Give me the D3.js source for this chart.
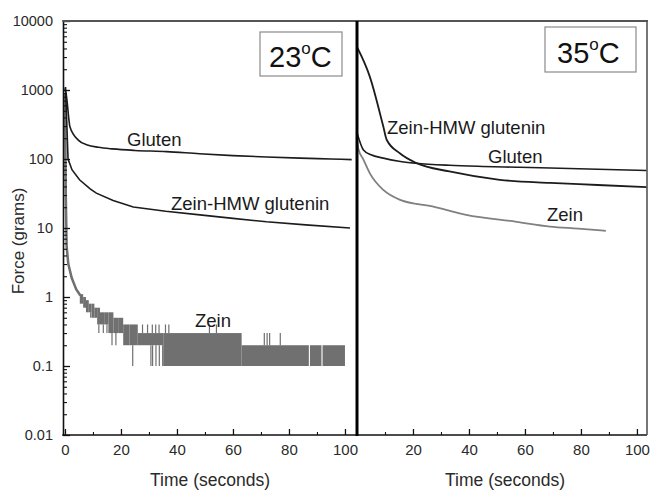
<!DOCTYPE html>
<html>
<head>
<meta charset="utf-8">
<script src="https://cdn.jsdelivr.net/npm/d3@7"></script>
<style>
  html, body { margin: 0; padding: 0; background: #fff; }
  svg { display: block; font-family: "Liberation Sans", Arial, Helvetica, sans-serif; }
</style>
</head>
<body>
<svg id="chart" width="651" height="490"></svg>
<script>
// ---------- DATA ----------
const yTickValues = [0.01, 0.1, 1, 10, 100, 1000, 10000];
const yTickLabels = ["0.01", "0.1", "1", "10", "100", "1000", "10000"];
const xTickValuesLeft = [0, 20, 40, 60, 80, 100];
const xTickValuesRight = [20, 40, 60, 80, 100];
const xMinorTicks = [10, 30, 50, 70, 90];

// 23 °C panel
const glutenT23 = [0, 0.36, 1.8, 4.75, 8, 11.9, 17, 25, 36.3, 48, 60, 72, 84, 95, 102.4];
const glutenF23 = [1000, 906, 290, 188, 160, 148, 140, 133, 128, 119, 112, 107, 103, 100, 98];

const hmwT23 = [0, 0.2, 1.1, 2.5, 5.2, 9, 11.2, 17.2, 24.4, 36, 48.2, 60, 72, 86, 101.8];
const hmwF23 = [1000, 1100, 100, 70, 50, 37, 32, 25, 20.2, 17.5, 15.5, 13.8, 12.3, 11.1, 10];

const zeinT23 = [0, 0.3, 0.6, 1.2, 2.4, 4, 5.5];
const zeinF23 = [900, 30, 5.4, 3.0, 1.9, 1.3, 1.05];

// noisy (quantised) zein trace at 23 °C: band segments [start, end, low, high]
const zeinBandStart = [5.3, 6.5, 7.5, 8.5, 9.5, 10.5, 11.5, 12.5, 14, 15.5, 17.3, 19, 20.8, 23, 26, 35.1, 63.1, 87.5, 92.0];
const zeinBandEnd   = [6.5, 7.5, 8.5, 9.5, 10.5, 11.5, 12.5, 14, 15.5, 17.3, 19, 20.8, 23, 26, 35.1, 63.1, 87.1, 91.6, 100];
const zeinBandLow   = [0.8, 0.7, 0.6, 0.6, 0.5, 0.5, 0.4, 0.4, 0.4, 0.3, 0.3, 0.3, 0.2, 0.2, 0.2, 0.1, 0.1, 0.1, 0.1];
const zeinBandHigh  = [1.1, 1.0, 0.9, 0.8, 0.8, 0.7, 0.7, 0.6, 0.6, 0.6, 0.5, 0.5, 0.4, 0.4, 0.3, 0.3, 0.2, 0.2, 0.2];
// isolated spikes of the zein trace
const zeinSpikeT    = [9.2, 12.1, 13.7, 15.0, 16.8, 18.2, 24.2, 27.7, 29.5, 30.7, 31.2, 31.3, 32.4, 32.5, 33.6, 33.7, 34.9, 35.9, 37.1, 51.6, 54.1, 71.2, 72.2, 73.1, 76.9];
const zeinSpikeLow  = [0.5, 0.3, 0.3, 0.3, 0.2, 0.2, 0.1, 0.3, 0.3, 0.1, 0.3, 0.1, 0.3, 0.1, 0.3, 0.1, 0.1, 0.3, 0.3, 0.3, 0.3, 0.2, 0.2, 0.2, 0.2];
const zeinSpikeHigh = [0.6, 0.4, 0.4, 0.4, 0.3, 0.3, 0.2, 0.4, 0.4, 0.2, 0.4, 0.2, 0.4, 0.2, 0.4, 0.2, 0.2, 0.4, 0.4, 0.4, 0.4, 0.3, 0.3, 0.3, 0.3];

// 35 °C panel
const glutenT35 = [0, 2.3, 5, 9.4, 15, 21, 33, 45, 57, 69, 86, 103.5];
const glutenF35 = [240, 135, 115, 103, 93, 87, 81, 78, 76, 74, 71, 68];

const hmwT35 = [0, 4.6, 9.4, 10.6, 15.4, 21.3, 33, 51, 69, 86, 103.5];
const hmwF35 = [4200, 1550, 295, 190, 120, 87, 66, 50, 45, 42, 39];

const zeinT35 = [0, 0.5, 2.3, 4.6, 9.4, 15.4, 27.3, 39, 57, 69, 79, 88.9];
const zeinF35 = [190, 140, 98, 62, 35.6, 25.6, 20.4, 15.5, 12.3, 10.5, 9.8, 9.1];

// ---------- LAYOUT ----------
const svg = d3.select("#chart");
const topY = 21, bottomY = 435;
const leftX0 = 63, sepX = 357, rightX1 = 647;

const y = d3.scaleLog().domain([0.01, 10000]).range([bottomY, topY]);
const xL = d3.scaleLinear().domain([-0.7, 104.3]).range([leftX0, sepX]);
const xR = d3.scaleLinear().domain([0, 103.6]).range([sepX, rightX1]);

const dark = "#1c1c1c";
const grey = "#707070";

const zip = (t, f) => t.map((d, i) => ({ t: d, f: f[i] }));

// clip paths
const defs = svg.append("defs");
defs.append("clipPath").attr("id", "clipL").append("rect")
  .attr("x", leftX0).attr("y", topY).attr("width", sepX - leftX0).attr("height", bottomY - topY);
defs.append("clipPath").attr("id", "clipR").append("rect")
  .attr("x", sepX).attr("y", topY).attr("width", rightX1 - sepX).attr("height", bottomY - topY);

// ---------- LEFT PANEL DATA ----------
const gL = svg.append("g").attr("clip-path", "url(#clipL)");
const lineL = d3.line().x(d => xL(d.t)).y(d => y(d.f));

// zein band
const bands = zeinBandStart.map((s, i) => ({ s, e: zeinBandEnd[i], lo: zeinBandLow[i], hi: zeinBandHigh[i] }));
gL.selectAll("rect.band").data(bands).join("rect")
  .attr("class", "band")
  .attr("x", d => xL(d.s))
  .attr("width", d => xL(d.e) - xL(d.s))
  .attr("y", d => y(d.hi))
  .attr("height", d => y(d.lo) - y(d.hi))
  .attr("fill", grey);
const spikes = zeinSpikeT.map((t, i) => ({ t, lo: zeinSpikeLow[i], hi: zeinSpikeHigh[i] }));
gL.selectAll("line.spike").data(spikes).join("line")
  .attr("class", "spike")
  .attr("x1", d => xL(d.t)).attr("x2", d => xL(d.t))
  .attr("y1", d => y(d.lo)).attr("y2", d => y(d.hi))
  .attr("stroke", grey).attr("stroke-width", 1.2);
gL.append("path").datum(zip(zeinT23, zeinF23))
  .attr("d", lineL).attr("fill", "none").attr("stroke", grey).attr("stroke-width", 2.5);

gL.append("path").datum(zip(glutenT23, glutenF23))
  .attr("d", lineL.curve(d3.curveMonotoneX)).attr("fill", "none").attr("stroke", dark).attr("stroke-width", 1.6);
gL.append("path").datum(zip(hmwT23, hmwF23))
  .attr("d", lineL.curve(d3.curveLinear)).attr("fill", "none").attr("stroke", dark).attr("stroke-width", 1.6);

// ---------- RIGHT PANEL DATA ----------
const gR = svg.append("g").attr("clip-path", "url(#clipR)");
const lineR = d3.line().x(d => xR(d.t)).y(d => y(d.f)).curve(d3.curveMonotoneX);
gR.append("path").datum(zip(zeinT35, zeinF35))
  .attr("d", lineR).attr("fill", "none").attr("stroke", "#808080").attr("stroke-width", 1.8);
gR.append("path").datum(zip(glutenT35, glutenF35))
  .attr("d", lineR).attr("fill", "none").attr("stroke", dark).attr("stroke-width", 1.6);
gR.append("path").datum(zip(hmwT35, hmwF35))
  .attr("d", lineR).attr("fill", "none").attr("stroke", dark).attr("stroke-width", 1.8);

// ---------- AXES ----------
const tickColor = "#111";
const labelColor = "#2a2a2a";

// Y axis (ticks inward)
const minorY = [];
for (let p = -2; p < 4; p++) for (let m = 2; m <= 9; m++) minorY.push(m * Math.pow(10, p));

const yAxis = svg.append("g").attr("transform", `translate(${leftX0},0)`)
  .call(d3.axisLeft(y).tickValues(yTickValues).tickSizeInner(-7).tickSizeOuter(0).tickPadding(10)
    .tickFormat((d, i) => yTickLabels[i]));
yAxis.select(".domain").attr("stroke", tickColor).attr("stroke-width", 1.6);
yAxis.selectAll(".tick line").attr("stroke", tickColor).attr("stroke-width", 1.3);
yAxis.selectAll("text").attr("font-size", 14.5).attr("fill", labelColor)
  .attr("font-family", "Liberation Sans, Arial, sans-serif");

const yMinor = svg.append("g").attr("transform", `translate(${leftX0},0)`)
  .call(d3.axisLeft(y).tickValues(minorY).tickSizeInner(-4).tickSizeOuter(0).tickFormat(""));
yMinor.select(".domain").remove();
yMinor.selectAll(".tick line").attr("stroke", tickColor).attr("stroke-width", 1.1);

// X axes
function xAxisPanel(scale, major, x0, x1) {
  const g = svg.append("g").attr("transform", `translate(0,${bottomY})`)
    .call(d3.axisBottom(scale).tickValues(major).tickSizeInner(-6).tickSizeOuter(0).tickPadding(9)
      .tickFormat(d3.format("d")));
  g.select(".domain").remove();
  g.selectAll(".tick line").attr("stroke", tickColor).attr("stroke-width", 1.3);
  g.selectAll("text").attr("font-size", 15).attr("fill", labelColor)
    .attr("font-family", "Liberation Sans, Arial, sans-serif");
  const gm = svg.append("g").attr("transform", `translate(0,${bottomY})`)
    .call(d3.axisBottom(scale).tickValues(xMinorTicks).tickSizeInner(-3).tickSizeOuter(0).tickFormat(""));
  gm.select(".domain").remove();
  gm.selectAll(".tick line").attr("stroke", tickColor).attr("stroke-width", 1.1);
  svg.append("line").attr("x1", x0).attr("x2", x1).attr("y1", bottomY).attr("y2", bottomY)
    .attr("stroke", tickColor).attr("stroke-width", 1.6);
}
xAxisPanel(xL, xTickValuesLeft, leftX0 - 0.8, sepX);
xAxisPanel(xR, xTickValuesRight, sepX, rightX1);

// frame: top & right
svg.append("line").attr("x1", leftX0 - 0.8).attr("x2", rightX1 + 1).attr("y1", topY).attr("y2", topY)
  .attr("stroke", "#555").attr("stroke-width", 1.8);
svg.append("line").attr("x1", rightX1).attr("x2", rightX1).attr("y1", topY).attr("y2", bottomY)
  .attr("stroke", "#555").attr("stroke-width", 1.6);
// separator
svg.append("line").attr("x1", sepX).attr("x2", sepX).attr("y1", topY).attr("y2", bottomY + 1)
  .attr("stroke", "#000").attr("stroke-width", 3);

// ---------- AXIS TITLES ----------
svg.append("text").attr("transform", `translate(24,241) rotate(-90)`)
  .attr("text-anchor", "middle").attr("font-size", 17).attr("fill", labelColor)
  .text("Force (grams)");
svg.append("text").attr("x", 210).attr("y", 486).attr("text-anchor", "middle")
  .attr("font-size", 17.5).attr("fill", labelColor).text("Time (seconds)");
svg.append("text").attr("x", 505).attr("y", 486).attr("text-anchor", "middle")
  .attr("font-size", 17.5).attr("fill", labelColor).text("Time (seconds)");

// ---------- CURVE LABELS ----------
const lblSize = 18.5;
function lbl(x, yb, txt) {
  svg.append("text").attr("x", x).attr("y", yb).attr("font-size", lblSize)
    .attr("fill", "#1a1a1a").text(txt);
}
lbl(127, 146, "Gluten");
lbl(171, 210, "Zein-HMW glutenin");
lbl(195, 327, "Zein");
lbl(387, 134, "Zein-HMW glutenin");
lbl(488, 163, "Gluten");
lbl(547, 221, "Zein");

// ---------- TEMPERATURE BOXES ----------
function tempBox(x, yTop, w, h, num, tx, tb) {
  svg.append("rect").attr("x", x).attr("y", yTop).attr("width", w).attr("height", h)
    .attr("fill", "#fff").attr("stroke", "#8a8a8a").attr("stroke-width", 1.2);
  const t = svg.append("text").attr("x", tx).attr("y", tb).attr("font-size", 29).attr("fill", "#111");
  t.append("tspan").text(num);
  t.append("tspan").attr("font-size", 17).attr("dy", -13).text("o");
  t.append("tspan").attr("dy", 13).text("C");
}
tempBox(260, 32, 82, 44, "23", 269, 67);
tempBox(545, 27, 91, 45, "35", 557, 63);
</script>
</body>
</html>
